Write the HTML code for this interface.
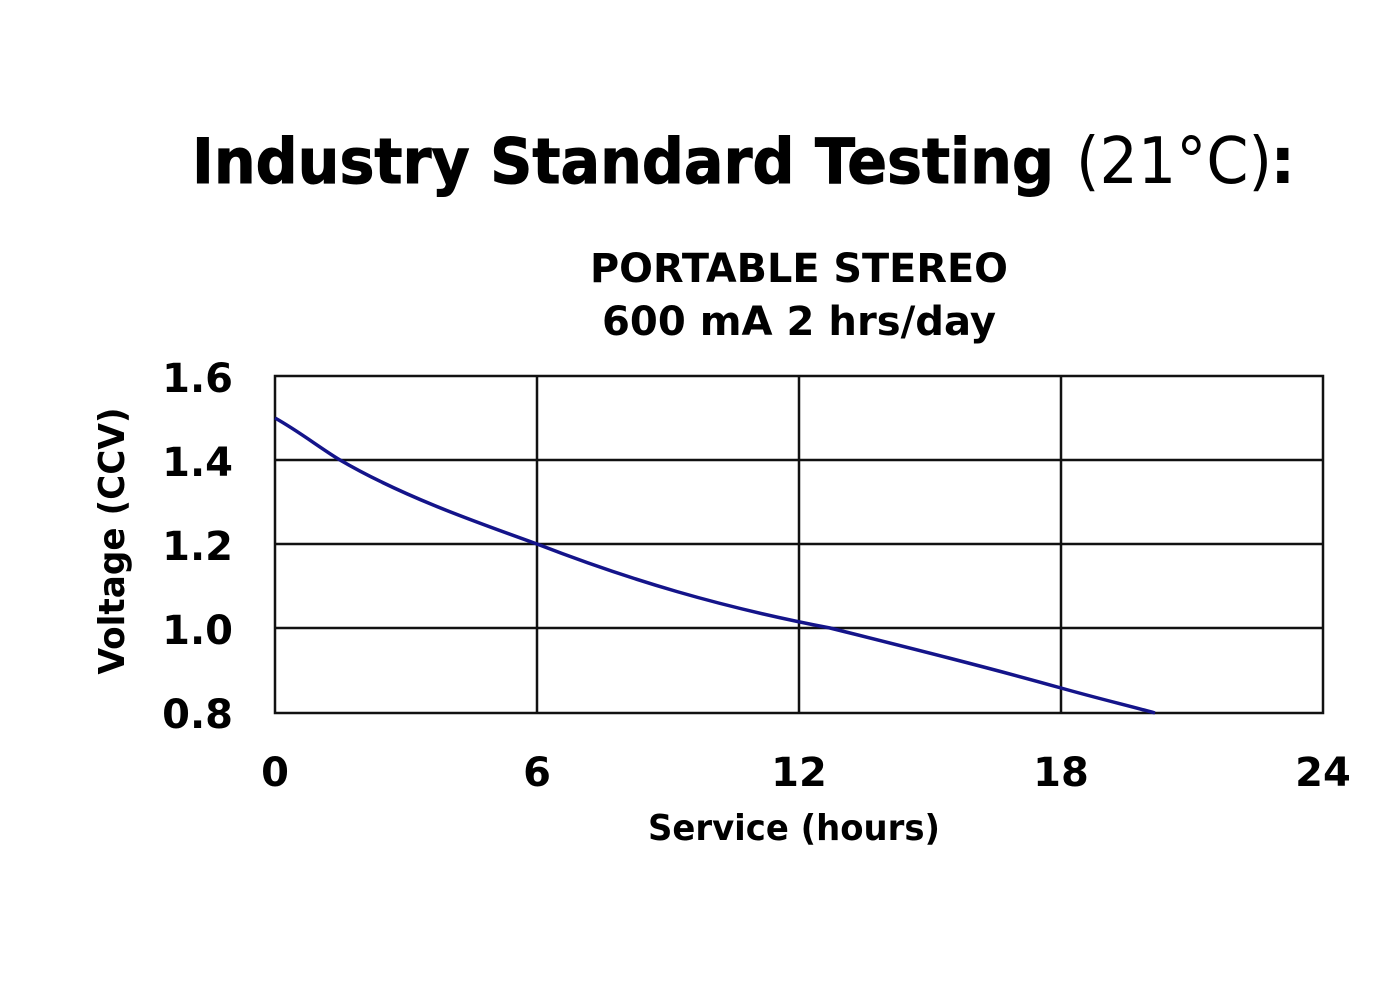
<!DOCTYPE html>
<html><head><meta charset="utf-8"><style>
html,body{margin:0;padding:0;background:#fff;}
svg{display:block;}
text{font-family:"DejaVu Sans","Liberation Sans",sans-serif;fill:#000;}
</style></head><body>
<svg width="1400" height="1000" viewBox="0 0 1400 1000" xmlns="http://www.w3.org/2000/svg">
<text x="192" y="183" font-size="62" font-weight="bold" textLength="862" lengthAdjust="spacingAndGlyphs" stroke="#000" stroke-width="1">Industry Standard Testing</text>
<text x="1076" y="183" font-size="64" textLength="196" lengthAdjust="spacingAndGlyphs">(21°C)</text>
<text x="1270" y="183" font-size="64" font-weight="bold">:</text>
<text x="799" y="282" font-size="40" font-weight="bold" text-anchor="middle" textLength="418" lengthAdjust="spacingAndGlyphs">PORTABLE STEREO</text>
<text x="799" y="335" font-size="40" font-weight="bold" text-anchor="middle" textLength="394" lengthAdjust="spacingAndGlyphs">600 mA 2 hrs/day</text>
<g stroke="#111" stroke-width="2.5" fill="none">
<rect x="275" y="376" width="1048" height="337"/>
<line x1="537" y1="376" x2="537" y2="713"/>
<line x1="799" y1="376" x2="799" y2="713"/>
<line x1="1061" y1="376" x2="1061" y2="713"/>
<line x1="275" y1="460" x2="1323" y2="460"/>
<line x1="275" y1="544" x2="1323" y2="544"/>
<line x1="275" y1="628" x2="1323" y2="628"/>
</g>
<path d="M275,418 C300,432 320,448 340,460 C400,495 470,520 537,544 C630,580 720,607 830,628 C910,648 990,668 1061,688 C1100,699 1130,706 1155,713" stroke="#14148a" stroke-width="3.5" fill="none"/>
<g font-size="40" font-weight="bold" text-anchor="end">
<text x="233" y="392">1.6</text>
<text x="233" y="476">1.4</text>
<text x="233" y="560">1.2</text>
<text x="233" y="644">1.0</text>
<text x="233" y="728">0.8</text>
</g>
<g font-size="40" font-weight="bold" text-anchor="middle">
<text x="275" y="786">0</text>
<text x="537" y="786">6</text>
<text x="799" y="786">12</text>
<text x="1061" y="786">18</text>
<text x="1323" y="786">24</text>
</g>
<text x="794" y="840" font-size="36" font-weight="bold" text-anchor="middle" textLength="292" lengthAdjust="spacingAndGlyphs">Service (hours)</text>
<text transform="translate(124,541) rotate(-90)" font-size="36" font-weight="bold" text-anchor="middle" textLength="267" lengthAdjust="spacingAndGlyphs">Voltage (CCV)</text>
</svg>
</body></html>
